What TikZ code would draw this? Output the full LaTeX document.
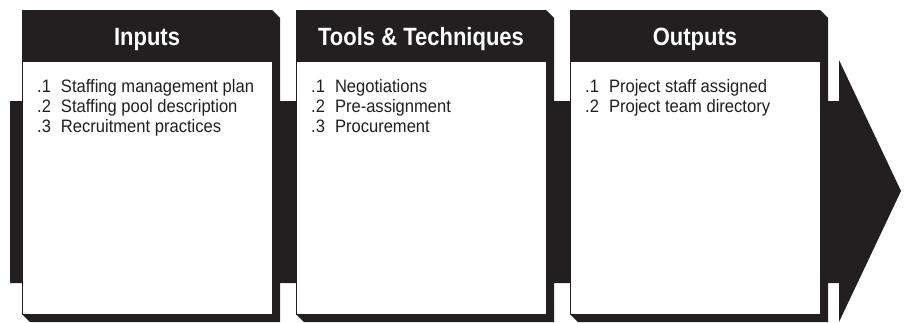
\documentclass[tikz,border=0pt]{standalone}
\usepackage{fontspec}
\setmainfont{Liberation Sans}
\newfontfamily\titulofont[FakeStretch=0.88]{Liberation Sans}
\newfontfamily\textofont[FakeStretch=0.92]{Liberation Sans}
\usepackage{xcolor}
\definecolor{preto}{HTML}{231F20}

\begin{document}
\begin{tikzpicture}[
    x=1pt, y=-1pt,
    cabecalho/.style={
        text=white,
        font=\titulofont\bfseries\fontsize{25}{27}\selectfont,
        anchor=base,
        inner sep=0pt
    },
    itens/.style={
        text=preto,
        font=\textofont\fontsize{18}{20}\selectfont,
        anchor=north west,
        align=left,
        inner sep=0pt
    },
    sombra/.style={
        fill=preto
    },
    face/.style={
        fill=white,
        draw=preto,
        line width=0.6pt
    }
]
\useasboundingbox (0,0) rectangle (905,322);

% seta de fundo
\fill[preto] (10,101) -- (839,101) -- (839,60) -- (901,191) -- (839,322)
    -- (839,283) -- (10,283) -- cycle;

% caixa Inputs
\fill[sombra] (22,10) -- (272,10) -- (280,18) -- (280,322) -- (30,322) -- (22,314) -- cycle;
\draw[face] (22,61) rectangle (272,314);
\node[cabecalho] (inputs) at (147,45) {Inputs};
\node[itens] (listaInputs) at (37,79)
    {.1\hspace{10pt}Staffing management plan\\
     .2\hspace{10pt}Staffing pool description\\
     .3\hspace{10pt}Recruitment practices};

% caixa Tools & Techniques
\fill[sombra] (296,10) -- (546,10) -- (554,18) -- (554,322) -- (304,322) -- (296,314) -- cycle;
\draw[face] (296,61) rectangle (546,314);
\node[cabecalho] (tools) at (421,45) {Tools \& Techniques};
\node[itens] (listaTools) at (311,79)
    {.1\hspace{10pt}Negotiations\\
     .2\hspace{10pt}Pre-assignment\\
     .3\hspace{10pt}Procurement};

% caixa Outputs
\fill[sombra] (570,10) -- (820,10) -- (828,18) -- (828,322) -- (578,322) -- (570,314) -- cycle;
\draw[face] (570,61) rectangle (820,314);
\node[cabecalho] (outputs) at (695,45) {Outputs};
\node[itens] (listaOutputs) at (585,79)
    {.1\hspace{10pt}Project staff assigned\\
     .2\hspace{10pt}Project team directory};

\end{tikzpicture}
\end{document}
